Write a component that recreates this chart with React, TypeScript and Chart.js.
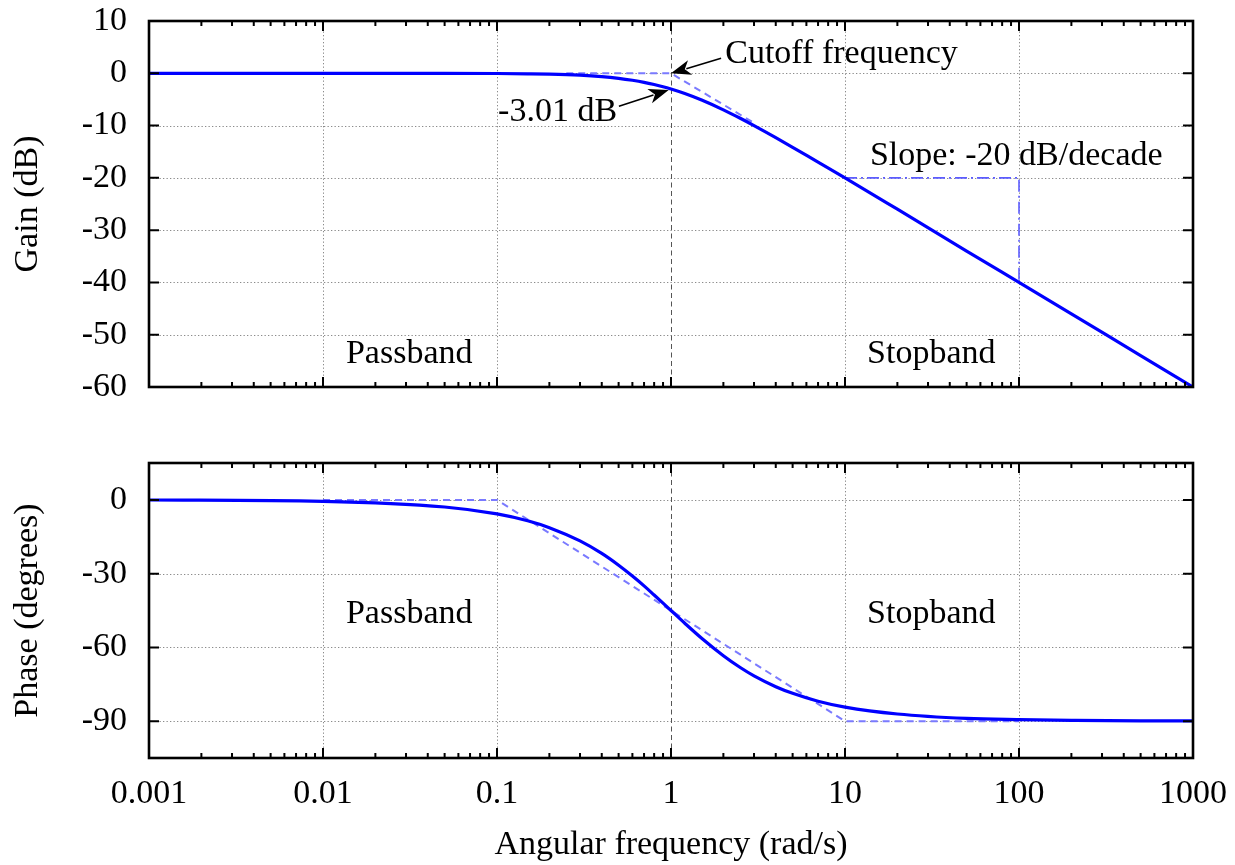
import React, { useEffect, useRef } from "react";
import { Chart, registerables } from "chart.js";

Chart.register(...registerables);

const FONT = "'Liberation Serif', 'Times New Roman', serif";

// ---- data ----
const freq = [0.001, 0.01, 0.05, 0.1, 0.15, 0.2, 0.3, 0.4, 0.5, 0.6, 0.7, 0.8, 0.9, 1, 1.2, 1.5, 2, 2.5, 3, 4, 5, 7, 10, 20, 50, 100, 200, 500, 1000];
const gainDb = [0, 0, -0.01, -0.04, -0.1, -0.17, -0.37, -0.64, -0.97, -1.34, -1.73, -2.15, -2.57, -3.01, -3.87, -5.12, -6.99, -8.6, -10.0, -12.3, -14.15, -17.0, -20.0, -26.0, -34.0, -40.0, -46.0, -54.0, -60.0];
const phaseDeg = [-0.06, -0.57, -2.9, -5.7, -8.5, -11.3, -16.7, -21.8, -26.6, -31.0, -35.0, -38.7, -42.0, -45.0, -50.2, -56.3, -63.4, -68.2, -71.6, -76.0, -78.7, -81.9, -84.3, -87.1, -88.9, -89.4, -89.7, -89.9, -89.9];

const gainAsymFreq = [0.25, 1, 3];
const gainAsymDb = [0, 0, -9.5];
const slopeFreq = [10, 100, 100];
const slopeDb = [-20, -20, -40];
const phaseAsymFreq = [0.01, 0.1, 10, 100];
const phaseAsymDeg = [0, 0, -90, -90];

const xTicks = [0.001, 0.01, 0.1, 1, 10, 100, 1000];
const xTickLabels = ["0.001", "0.01", "0.1", "1", "10", "100", "1000"];
const minorMultipliers = [2, 3, 4, 5, 6, 7, 8, 9];
const gainTicks = [-60, -50, -40, -30, -20, -10, 0, 10];
const gainTickLabels = ["-60", "-50", "-40", "-30", "-20", "-10", "0", "10"];
const phaseTicks = [-90, -60, -30, 0];
const phaseTickLabels = ["-90", "-60", "-30", "0"];

const pts = (xs: number[], ys: number[]) => xs.map((x, i) => ({ x, y: ys[i] }));

type Ann = { text: string; x: number; y: number; align: CanvasTextAlign };
type Arrow = { from: [number, number]; to: [number, number] };

const topAnnotations: Ann[] = [
  { text: "Cutoff frequency", x: 2.05, y: 1.9, align: "left" },
  { text: "-3.01 dB", x: 0.49, y: -9.2, align: "right" },
  { text: "Slope: -20 dB/decade", x: 13.9, y: -17.6, align: "left" },
  { text: "Passband", x: 0.01355, y: -55.5, align: "left" },
  { text: "Stopband", x: 13.4, y: -55.5, align: "left" },
];
const topArrows: Arrow[] = [
  { from: [1.94, 2.87], to: [1.0, 0] },
  { from: [0.502, -6.3], to: [0.97, -3.2] },
];
const bottomAnnotations: Ann[] = [
  { text: "Passband", x: 0.01355, y: -50.1, align: "left" },
  { text: "Stopband", x: 13.4, y: -50.1, align: "left" },
];

function drawArrow(ctx: CanvasRenderingContext2D, x1: number, y1: number, x2: number, y2: number) {
  const ang = Math.atan2(y2 - y1, x2 - x1);
  const L = 20, W = 7.5;
  ctx.save();
  ctx.strokeStyle = "#000";
  ctx.fillStyle = "#000";
  ctx.lineWidth = 1.6;
  ctx.setLineDash([]);
  ctx.beginPath();
  ctx.moveTo(x1, y1);
  ctx.lineTo(x2 - Math.cos(ang) * L * 0.8, y2 - Math.sin(ang) * L * 0.8);
  ctx.stroke();
  const bx = x2 - Math.cos(ang) * L, by = y2 - Math.sin(ang) * L;
  const nx = -Math.sin(ang), ny = Math.cos(ang);
  const mx = x2 - Math.cos(ang) * L * 0.72, my = y2 - Math.sin(ang) * L * 0.72;
  ctx.beginPath();
  ctx.moveTo(x2, y2);
  ctx.lineTo(bx + nx * W, by + ny * W);
  ctx.lineTo(mx, my);
  ctx.lineTo(bx - nx * W, by - ny * W);
  ctx.closePath();
  ctx.fill();
  ctx.restore();
}

function makeDeco(yGrid: number[], yMajor: number[], anns: Ann[], arrows: Arrow[]) {
  return {
    id: "bodeDeco",
    beforeDatasetsDraw(chart: any) {
      const { ctx, chartArea: a, scales } = chart;
      const xs = scales.x, ys = scales.y;
      ctx.save();
      ctx.lineWidth = 1;
      for (const v of yGrid) {
        const py = Math.round(ys.getPixelForValue(v)) + 0.5;
        ctx.strokeStyle = "#8a8a8a";
        ctx.setLineDash([1.3, 2.2]);
        ctx.beginPath();
        ctx.moveTo(a.left, py);
        ctx.lineTo(a.right, py);
        ctx.stroke();
      }
      for (const v of xTicks) {
        if (v === xTicks[0] || v === xTicks[xTicks.length - 1]) continue;
        const px = Math.round(xs.getPixelForValue(v)) + 0.5;
        if (v === 1) {
          ctx.strokeStyle = "#555";
          ctx.setLineDash([5, 3.5]);
        } else {
          ctx.strokeStyle = "#8a8a8a";
          ctx.setLineDash([1.3, 2.2]);
        }
        ctx.beginPath();
        ctx.moveTo(px, a.top);
        ctx.lineTo(px, a.bottom);
        ctx.stroke();
      }
      ctx.restore();
    },
    afterDatasetsDraw(chart: any) {
      const { ctx, chartArea: a, scales } = chart;
      const xs = scales.x, ys = scales.y;
      ctx.save();
      ctx.setLineDash([]);
      ctx.strokeStyle = "#000";
      ctx.lineWidth = 2;
      ctx.beginPath();
      for (let i = 0; i < xTicks.length; i++) {
        const px = xs.getPixelForValue(xTicks[i]);
        ctx.moveTo(px, a.bottom);
        ctx.lineTo(px, a.bottom - 10);
        ctx.moveTo(px, a.top);
        ctx.lineTo(px, a.top + 10);
        if (i < xTicks.length - 1) {
          for (const m of minorMultipliers) {
            const qx = xs.getPixelForValue(xTicks[i] * m);
            ctx.moveTo(qx, a.bottom);
            ctx.lineTo(qx, a.bottom - 5);
            ctx.moveTo(qx, a.top);
            ctx.lineTo(qx, a.top + 5);
          }
        }
      }
      for (const v of yMajor) {
        const py = ys.getPixelForValue(v);
        ctx.moveTo(a.left, py);
        ctx.lineTo(a.left + 10, py);
        ctx.moveTo(a.right, py);
        ctx.lineTo(a.right - 10, py);
      }
      ctx.stroke();
      ctx.lineWidth = 2.6;
      ctx.strokeRect(a.left, a.top, a.right - a.left, a.bottom - a.top);
      ctx.restore();
    },
    afterDraw(chart: any) {
      const { ctx, scales } = chart;
      const xs = scales.x, ys = scales.y;
      ctx.save();
      ctx.font = `34px ${FONT}`;
      ctx.fillStyle = "#000";
      ctx.textBaseline = "alphabetic";
      for (const an of anns) {
        ctx.textAlign = an.align;
        ctx.fillText(an.text, xs.getPixelForValue(an.x), ys.getPixelForValue(an.y));
      }
      for (const ar of arrows) {
        drawArrow(
          ctx,
          xs.getPixelForValue(ar.from[0]),
          ys.getPixelForValue(ar.from[1]),
          xs.getPixelForValue(ar.to[0]),
          ys.getPixelForValue(ar.to[1])
        );
      }
      ctx.restore();
    },
  };
}

const tickFont = { family: FONT, size: 34, lineHeight: 1.2 };

const zeroPad = (s: any) => {
  s.paddingTop = 0;
  s.paddingBottom = 0;
  s.paddingLeft = 0;
  s.paddingRight = 0;
};

function baseDatasets(mainX: number[], mainY: number[], extra: any[]) {
  return [
    {
      data: pts(mainX, mainY),
      borderColor: "#0000ff",
      borderWidth: 3.2,
      pointRadius: 0,
      cubicInterpolationMode: "monotone",
      fill: false,
      order: 0,
    },
    ...extra,
  ];
}

export default function App() {
  const topRef = useRef<HTMLCanvasElement>(null);
  const botRef = useRef<HTMLCanvasElement>(null);

  useEffect(() => {
    const topChart = new Chart(topRef.current as HTMLCanvasElement, {
      type: "line",
      data: {
        datasets: baseDatasets(freq, gainDb, [
          {
            data: pts(gainAsymFreq, gainAsymDb),
            borderColor: "#7a7aff",
            borderWidth: 2,
            borderDash: [7, 5],
            pointRadius: 0,
            tension: 0,
            order: 1,
          },
          {
            data: pts(slopeFreq, slopeDb),
            borderColor: "#5c5cff",
            borderWidth: 1.6,
            borderDash: [12, 4, 2, 4],
            pointRadius: 0,
            tension: 0,
            order: 2,
          },
        ]) as any,
      },
      options: {
        responsive: false,
        animation: false,
        events: [],
        layout: { padding: { left: 0, right: 42, top: 21, bottom: 33 } },
        plugins: { legend: { display: false }, tooltip: { enabled: false } },
        scales: {
          x: { type: "logarithmic", min: 0.001, max: 1000, display: false },
          y: {
            type: "linear",
            min: -60,
            max: 10,
            afterBuildTicks: (s: any) => {
              s.ticks = gainTicks.map((v) => ({ value: v }));
            },
            afterFit: (s: any) => {
              s.width = 149;
              zeroPad(s);
            },
            grid: { display: false, drawTicks: false },
            border: { display: false },
            ticks: {
              autoSkip: false,
              padding: 22,
              color: "#000",
              font: tickFont,
              callback: (_v: any, i: number) => gainTickLabels[i],
            },
            title: {
              display: true,
              text: "Gain (dB)",
              color: "#000",
              font: tickFont,
              padding: { top: 8, bottom: 0 },
            },
          },
        },
      } as any,
      plugins: [makeDeco([-50, -40, -30, -20, -10, 0], gainTicks, topAnnotations, topArrows)],
    });

    const botChart = new Chart(botRef.current as HTMLCanvasElement, {
      type: "line",
      data: {
        datasets: baseDatasets(freq, phaseDeg, [
          {
            data: pts(phaseAsymFreq, phaseAsymDeg),
            borderColor: "#7a7aff",
            borderWidth: 2,
            borderDash: [7, 5],
            pointRadius: 0,
            tension: 0,
            order: 1,
          },
        ]) as any,
      },
      options: {
        responsive: false,
        animation: false,
        events: [],
        layout: { padding: { left: 0, right: 42, top: 23, bottom: 0 } },
        plugins: { legend: { display: false }, tooltip: { enabled: false } },
        scales: {
          x: {
            type: "logarithmic",
            min: 0.001,
            max: 1000,
            afterBuildTicks: (s: any) => {
              s.ticks = xTicks.map((v) => ({ value: v }));
            },
            afterFit: (s: any) => {
              s.height = 107;
              zeroPad(s);
            },
            grid: { display: false, drawTicks: false },
            border: { display: false },
            ticks: {
              autoSkip: false,
              maxRotation: 0,
              padding: 16,
              color: "#000",
              font: tickFont,
              callback: (_v: any, i: number) => xTickLabels[i],
            },
            title: {
              display: true,
              text: "Angular frequency (rad/s)",
              color: "#000",
              font: tickFont,
              padding: { top: 0, bottom: 0 },
            },
          },
          y: {
            type: "linear",
            min: -105,
            max: 15,
            afterBuildTicks: (s: any) => {
              s.ticks = phaseTicks.map((v) => ({ value: v }));
            },
            afterFit: (s: any) => {
              s.width = 149;
              zeroPad(s);
            },
            grid: { display: false, drawTicks: false },
            border: { display: false },
            ticks: {
              autoSkip: false,
              padding: 22,
              color: "#000",
              font: tickFont,
              callback: (_v: any, i: number) => phaseTickLabels[i],
            },
            title: {
              display: true,
              text: "Phase (degrees)",
              color: "#000",
              font: tickFont,
              padding: { top: 8, bottom: 0 },
            },
          },
        },
      } as any,
      plugins: [makeDeco(phaseTicks, phaseTicks, bottomAnnotations, [])],
    });

    return () => {
      topChart.destroy();
      botChart.destroy();
    };
  }, []);

  return (
    <div style={{ position: "absolute", left: 0, top: 0, width: 1235, height: 865, background: "#fff", overflow: "hidden" }}>
      <canvas ref={topRef} width={1235} height={420} style={{ position: "absolute", left: 0, top: 0 }} />
      <canvas ref={botRef} width={1235} height={425} style={{ position: "absolute", left: 0, top: 440 }} />
    </div>
  );
}
